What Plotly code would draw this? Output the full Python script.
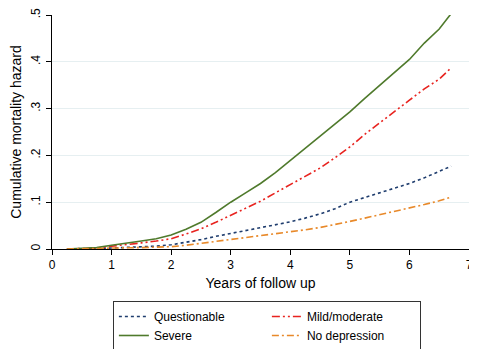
import plotly.graph_objects as go

years = [0.25, 0.5, 0.75, 1.0, 1.25, 1.5, 1.75, 2.0, 2.25, 2.5, 2.75, 3.0, 3.25, 3.5,
         3.75, 4.0, 4.25, 4.5, 4.75, 5.0, 5.25, 5.5, 5.75, 6.0, 6.25, 6.5, 6.7]

questionable = [0, 0, 0.001, 0.002, 0.003, 0.004, 0.006, 0.009, 0.014, 0.02, 0.027, 0.033,
                0.039, 0.045, 0.051, 0.058, 0.066, 0.075, 0.086, 0.1, 0.11, 0.12, 0.13,
                0.14, 0.152, 0.165, 0.177]
mild = [0, 0.001, 0.002, 0.006, 0.009, 0.013, 0.017, 0.022, 0.032, 0.043, 0.057, 0.072,
        0.087, 0.102, 0.12, 0.138, 0.155, 0.173, 0.195, 0.218, 0.245, 0.27, 0.295, 0.318,
        0.342, 0.363, 0.387]
severe = [0, 0.001, 0.003, 0.008, 0.012, 0.017, 0.022, 0.03, 0.042, 0.057, 0.078, 0.1,
          0.12, 0.14, 0.163, 0.189, 0.214, 0.24, 0.266, 0.293, 0.322, 0.35, 0.378, 0.405,
          0.44, 0.47, 0.503]
nodep = [0, 0, 0.001, 0.002, 0.002, 0.003, 0.004, 0.005, 0.008, 0.012, 0.016, 0.02,
         0.024, 0.028, 0.032, 0.036, 0.041, 0.046, 0.052, 0.059, 0.066, 0.073, 0.08,
         0.087, 0.095, 0.103, 0.111]

ytick_vals = [0, 0.1, 0.2, 0.3, 0.4, 0.5]
ytick_text = ["0", ".1", ".2", ".3", ".4", ".5"]
xtick_vals = [0, 1, 2, 3, 4, 5, 6, 7]

series = [
    ("Questionable", questionable, "#1f3d6e", "dot"),
    ("Mild/moderate", mild, "#e8231f", "8px,3px,2px,3px,2px,3px"),
    ("Severe", severe, "#4f7a2c", "solid"),
    ("No depression", nodep, "#e8892a", "7px,3px,2px,3px"),
]

fig = go.Figure()
for name, vals, color, dash in series:
    fig.add_trace(go.Scatter(x=years, y=vals, mode="lines", name=name,
                             line=dict(color=color, width=1.6, dash=dash)))

# page body has an 8px default margin; figure sized to fill the rest of the window
fig.update_layout(
    width=469, height=341,
    margin=dict(l=44, r=8, t=7, b=100),
    paper_bgcolor="white", plot_bgcolor="white",
    font=dict(family="Liberation Sans, Arial, sans-serif", size=12, color="black"),
    showlegend=True,
    legend=dict(orientation="h", x=0.552, xanchor="center", y=0.1408, yanchor="top",
                xref="container", yref="container",
                entrywidth=108, bordercolor="#333333", borderwidth=1,
                font=dict(size=12), traceorder="normal", tracegroupgap=0),
)
fig.update_xaxes(range=[0, 7], tickvals=xtick_vals, showgrid=False, zeroline=False,
                 showline=True, linecolor="black", linewidth=1, ticks="outside",
                 ticklen=5, tickcolor="black", automargin=False, ticklabeloverflow="allow",
                 title=dict(text="Years of follow up", standoff=6), tickfont=dict(size=12))
fig.update_yaxes(range=[0, 0.5], tickvals=ytick_vals, ticktext=ytick_text, tickangle=-90,
                 showgrid=True, gridcolor="#e6eff1", gridwidth=1, zeroline=False,
                 showline=True, linecolor="black", linewidth=1, ticks="outside",
                 ticklen=5, tickcolor="black", automargin=False, ticklabelstandoff=1,
                 ticklabeloverflow="allow",
                 title=dict(text="Cumulative mortality hazard", standoff=10), tickfont=dict(size=12))

fig.write_html("out.html")
